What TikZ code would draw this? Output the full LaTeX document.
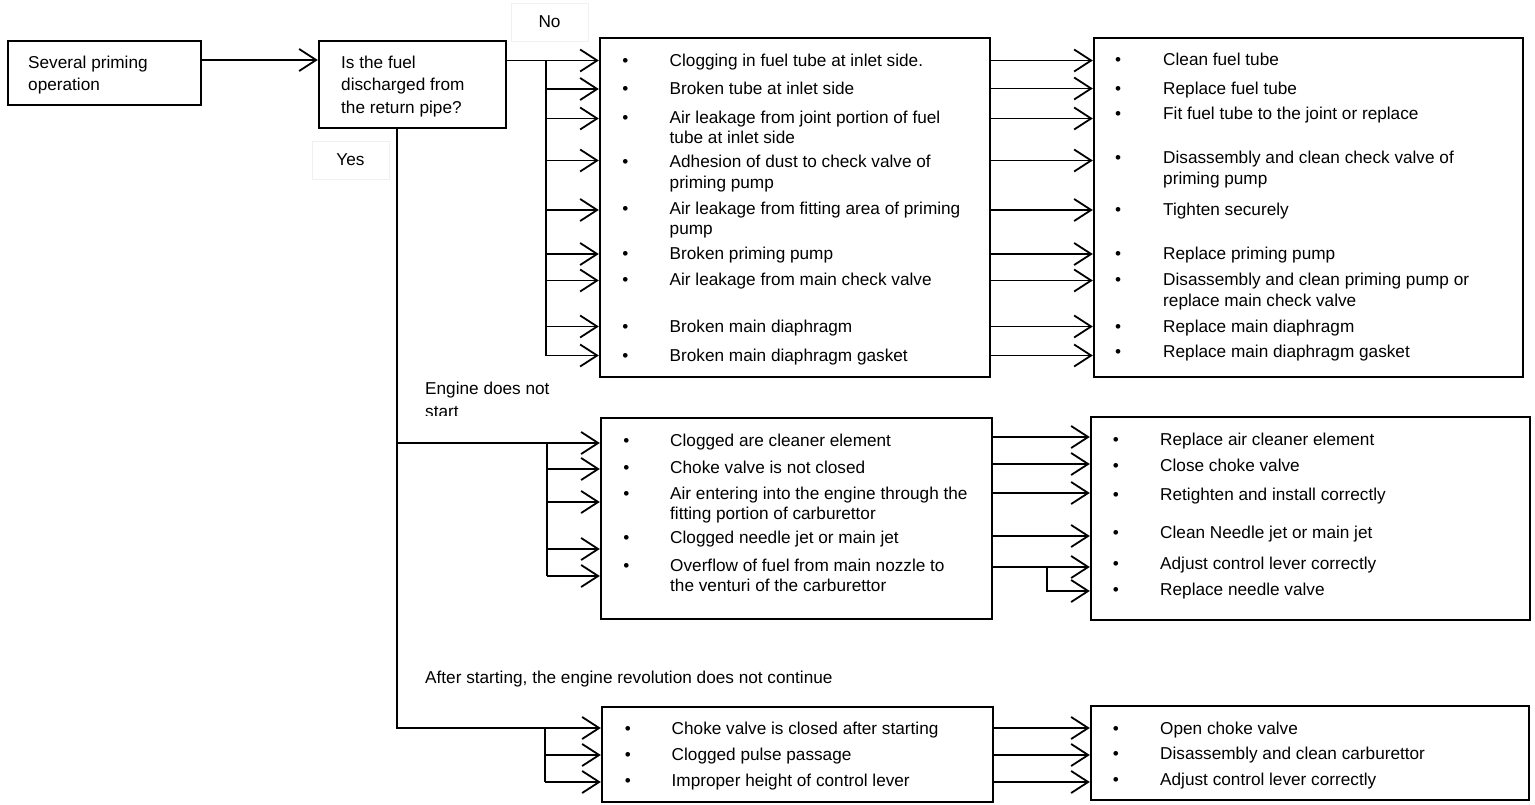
\documentclass[tikz,border=0pt]{standalone}
\usepackage{fontspec}
\setmainfont{Liberation Sans}
\usetikzlibrary{arrows.meta}
\tikzset{
  box/.style={draw, line width=2.4pt, inner sep=0pt},
  tagbox/.style={draw=black!6, line width=0.8pt, inner sep=0pt, font=\fontsize{17.2}{20.5}\selectfont},
  conn/.style={line width=1.8pt, -{Straight Barb[length=17pt,width=22pt,line width=1.8pt]}},
  wire/.style={line width=1.8pt},
  txt/.style={inner sep=0pt, anchor=base west, font=\fontsize{17.2}{20.5}\selectfont},
  bul/.style={inner sep=0pt, anchor=base, font=\fontsize{17.2}{20.5}\selectfont},
}
\newcommand\itm[5]{\node[bul] (#1b) at (#2,#4+6) {•}; \node[txt] (#1) at (#3,#4+6) {#5};}
\newcommand\cnt[4]{\node[txt] (#1) at (#2,#3+6) {#4};}
\begin{document}
\begin{tikzpicture}[x=1pt,y=-1pt]
\useasboundingbox (0,0) rectangle (1535,805);
% boxes
\node[box, minimum width=193pt, minimum height=64pt] (A) at (104.5,73) {};
\node[box, minimum width=187pt, minimum height=87pt] (B) at (412.5,84.5) {};
\node[tagbox, minimum width=77pt, minimum height=38pt] (No) at (549.5,22) {No};
\node[tagbox, minimum width=77pt, minimum height=38pt] (Yes) at (350.5,160) {Yes};
\node[box, minimum width=390pt, minimum height=339pt] (C1) at (795,207.5) {};
\node[box, minimum width=429pt, minimum height=339pt] (R1) at (1308.5,207.5) {};
\node[box, minimum width=391pt, minimum height=201pt] (C2) at (796.5,518.5) {};
\node[box, minimum width=439pt, minimum height=203pt] (R2) at (1310.5,518.5) {};
\node[box, minimum width=391pt, minimum height=95pt] (C3) at (797.5,754.5) {};
\node[box, minimum width=438pt, minimum height=94pt] (R3) at (1310,753) {};
% box texts
\cnt{a1}{28}{63}{Several priming}
\cnt{a2}{28}{85}{operation}
\cnt{b1}{341}{63}{Is the fuel}
\cnt{b2}{341}{85}{discharged from}
\cnt{b3}{341}{108}{the return pipe?}
\cnt{e1}{425}{388}{Engine does not}
\begin{scope}
\clip (400,380) rectangle (600,415.5);
\cnt{e2}{425}{411}{start}
\end{scope}
\cnt{f1}{425}{677}{After starting, the engine revolution does not continue}
% causes 1
\itm{c11}{625.5}{669.5}{60.7}{Clogging in fuel tube at inlet side.}
\itm{c12}{625.5}{669.5}{89}{Broken tube at inlet side}
\itm{c13}{625.5}{669.5}{118}{Air leakage from joint portion of fuel}
\cnt{c13x}{669.5}{138}{tube at inlet side}
\itm{c14}{625.5}{669.5}{162}{Adhesion of dust to check valve of}
\cnt{c14x}{669.5}{183}{priming pump}
\itm{c15}{625.5}{669.5}{209}{Air leakage from fitting area of priming}
\cnt{c15x}{669.5}{229}{pump}
\itm{c16}{625.5}{669.5}{254}{Broken priming pump}
\itm{c17}{625.5}{669.5}{280}{Air leakage from main check valve}
\itm{c18}{625.5}{669.5}{326}{Broken main diaphragm}
\itm{c19}{625.5}{669.5}{355}{Broken main diaphragm gasket}
% remedies 1
\itm{r11}{1118}{1163}{60}{Clean fuel tube}
\itm{r12}{1118}{1163}{89}{Replace fuel tube}
\itm{r13}{1118}{1163}{114}{Fit fuel tube to the joint or replace}
\itm{r14}{1118}{1163}{158}{Disassembly and clean check valve of}
\cnt{r14x}{1163}{179}{priming pump}
\itm{r15}{1118}{1163}{210}{Tighten securely}
\itm{r16}{1118}{1163}{254}{Replace priming pump}
\itm{r17}{1118}{1163}{280}{Disassembly and clean priming pump or}
\cnt{r17x}{1163}{300}{replace main check valve}
\itm{r18}{1118}{1163}{326}{Replace main diaphragm}
\itm{r19}{1118}{1163}{351}{Replace main diaphragm gasket}
% causes 2
\itm{c21}{626.5}{670}{440}{Clogged are cleaner element}
\itm{c22}{626.5}{670}{467}{Choke valve is not closed}
\itm{c23}{626.5}{670}{493}{Air entering into the engine through the}
\cnt{c23x}{670}{513}{fitting portion of carburettor}
\itm{c24}{626.5}{670}{537}{Clogged needle jet or main jet}
\itm{c25}{626.5}{670}{565}{Overflow of fuel from main nozzle to}
\cnt{c25x}{670}{585}{the venturi of the carburettor}
% remedies 2
\itm{r21}{1116}{1160}{439}{Replace air cleaner element}
\itm{r22}{1116}{1160}{465}{Close choke valve}
\itm{r23}{1116}{1160}{494}{Retighten and install correctly}
\itm{r24}{1116}{1160}{532}{Clean Needle jet or main jet}
\itm{r25}{1116}{1160}{563}{Adjust control lever correctly}
\itm{r26}{1116}{1160}{589}{Replace needle valve}
% causes 3
\itm{c31}{628}{671.5}{728}{Choke valve is closed after starting}
\itm{c32}{628}{671.5}{754}{Clogged pulse passage}
\itm{c33}{628}{671.5}{780}{Improper height of control lever}
% remedies 3
\itm{r31}{1116}{1160}{728}{Open choke valve}
\itm{r32}{1116}{1160}{753}{Disassembly and clean carburettor}
\itm{r33}{1116}{1160}{779}{Adjust control lever correctly}
% connectors
\draw[conn] (A.east |- 0,60) -- (B.west |- 0,60);
\draw[conn] (B.east |- 0,60.5) -- (C1.west |- 0,60.5);
\coordinate (bus1) at (546,60.5);
\draw[wire] (bus1) -- (546,355.5);
\foreach \y in {89,118.5,160.5,210,254,280.5,326.5,355.5}
  \draw[conn] (bus1 |- 0,\y) -- (C1.west |- 0,\y);
\foreach \y in {60.5,88.5,118.5,160.5,210,254,280.5,326.5,355.5}
  \draw[conn] (C1.east |- 0,\y) -- (R1.west |- 0,\y);
% yes branch
\coordinate (ytop) at (B.south -| 397,0);
\coordinate (y2) at (397,443);
\draw[conn] (ytop) |- (C3.west |- 0,728);
\draw[conn] (y2) -- (C2.west |- 0,443);
\coordinate (bus2) at (547,443);
\draw[wire] (bus2) -- (547,576);
\foreach \y in {469,502,549,576}
  \draw[conn] (bus2 |- 0,\y) -- (C2.west |- 0,\y);
\foreach \y in {437,464,493,536,567}
  \draw[conn] (C2.east |- 0,\y) -- (R2.west |- 0,\y);
\coordinate (fork) at (1047,567);
\draw[conn] (fork) |- (R2.west |- 0,591);
\coordinate (bus3) at (545,728);
\draw[wire] (bus3) -- (545,782);
\foreach \y in {755,782}
  \draw[conn] (bus3 |- 0,\y) -- (C3.west |- 0,\y);
\foreach \y in {728,755,782}
  \draw[conn] (C3.east |- 0,\y) -- (R3.west |- 0,\y);
\end{tikzpicture}
\end{document}
